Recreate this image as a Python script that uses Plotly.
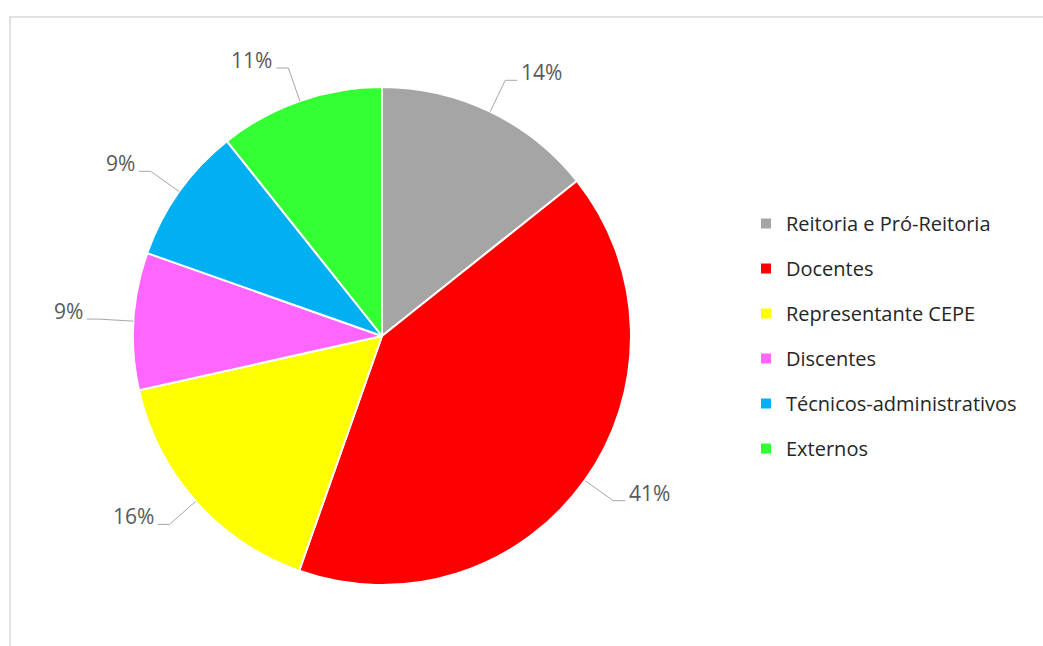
import math
import plotly.graph_objects as go

categories = ["Reitoria e Pró-Reitoria", "Docentes", "Representante CEPE",
              "Discentes", "Técnicos-administrativos", "Externos"]
values = [14.3, 41.1, 16.1, 8.9, 8.9, 10.7]
colors = ["#A5A5A5", "#FF0000", "#FFFF00", "#FF66FF", "#00B0F0", "#33FF33"]

W, H = 1043, 646
CX, CY, R = 382, 336, 249
FONT = "Open Sans"


def px2paper(x, y):
    return x / W, 1 - y / H


fig = go.Figure()

x0, y1 = px2paper(CX - R, CY - R)
x1, y0 = px2paper(CX + R, CY + R)
fig.add_trace(go.Pie(
    labels=categories, values=values, sort=False, direction="clockwise",
    rotation=0, marker=dict(colors=colors, line=dict(color="white", width=2)),
    textinfo="none", showlegend=False, hoverinfo="label+percent",
    domain=dict(x=[x0, x1], y=[y0, y1]),
))

# legend via proxy traces (to get Excel-like spacing)
for name, col in zip(categories, colors):
    fig.add_trace(go.Scatter(
        x=[None], y=[None], mode="markers", name=name, legendgroup=name,
        marker=dict(symbol="square", size=10, color=col),
    ))

total = sum(values)
annotations = []
shapes = []
cum = 0.0
for v in values:
    mid = (cum + v / 2) / total * 2 * math.pi
    cum += v
    s, c = math.sin(mid), -math.cos(mid)
    px, py = CX + R * s, CY + R * c
    ex, ey = CX + 1.14 * R * s, CY + 1.14 * R * c
    side = 1 if s >= 0 else -1
    hx = ex + side * 12
    pts = [(px, py), (ex, ey), (hx, ey)]
    path = "M " + " L ".join(
        f"{px2paper(a, b)[0]},{px2paper(a, b)[1]}" for a, b in pts)
    shapes.append(dict(type="path", xref="paper", yref="paper", path=path,
                       line=dict(color="#A6A6A6", width=1)))
    lx, ly = px2paper(hx + side * 2, ey - 8)
    annotations.append(dict(
        x=lx, y=ly, xref="paper", yref="paper", showarrow=False,
        text=f"{round(v / total * 100)}%",
        xanchor="left" if side > 0 else "right", yanchor="middle",
        font=dict(family=FONT, size=21, color="#595959"),
    ))

# chart frame (partly cropped in the reference)
bx0, by1 = px2paper(10, 17)
shapes.append(dict(type="rect", xref="paper", yref="paper",
                   x0=bx0, y0=-0.2, x1=1.2, y1=by1,
                   line=dict(color="#D9D9D9", width=1.5), layer="below"))

lgx, lgy = px2paper(746, 204)
fig.update_layout(
    width=W, height=H, margin=dict(l=0, r=0, t=0, b=0),
    paper_bgcolor="white", plot_bgcolor="white",
    xaxis=dict(visible=False), yaxis=dict(visible=False),
    font=dict(family=FONT, size=20, color="#262626"),
    legend=dict(x=lgx, y=lgy, xanchor="left", yanchor="top",
                tracegroupgap=16, itemwidth=30,
                font=dict(family=FONT, size=20, color="#262626")),
    annotations=annotations, shapes=shapes,
)

fig.write_html(
    "out.html",
    config={"displayModeBar": False},
    post_script="document.body.style.margin='0px';document.body.style.overflow='hidden';",
)
